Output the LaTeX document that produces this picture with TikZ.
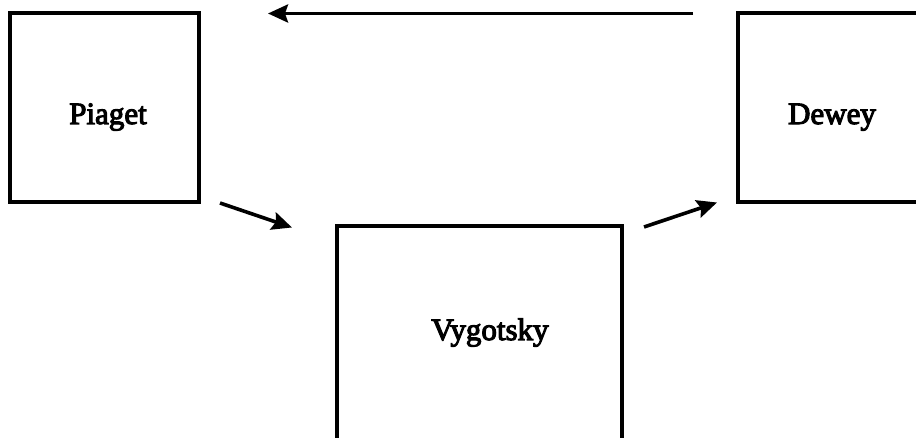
\documentclass[tikz,border=0pt]{standalone}
\usepackage{fontspec}
\setmainfont{Liberation Serif}[FakeBold=3.5]
\usetikzlibrary{arrows.meta}
\begin{document}
\begin{tikzpicture}[x=1pt,y=-1pt,
  box/.style={draw=black,line width=3.4pt},
  name label/.style={font=\fontsize{31}{36}\selectfont,anchor=base,inner sep=0pt},
  flow/.style={line width=3.6pt,-{Stealth[length=20pt,width=18pt,inset=3pt]}}]
  \useasboundingbox (0,0) rectangle (916,438);
  \clip (0,0) rectangle (916,438);
  \fill[white] (0,0) rectangle (916,438);
  % the three boxes (Dewey and Vygotsky run past the page edge)
  \draw[box] (10,13) rectangle (199,202) node[pos=0.5,name=piaget,inner sep=0pt]{};
  \draw[box] (738,13) rectangle (928,202) node[pos=0.5,name=dewey,inner sep=0pt]{};
  \draw[box] (337,226) rectangle (622,460) node[pos=0.5,name=vygotsky,inner sep=0pt]{};
  % names
  \node[name label] (piagettext) at (108,124) {Piaget};
  \node[name label] (deweytext) at (832,124) {Dewey};
  \node[name label] (vygotskytext) at (490,340) {Vygotsky};
  % arrow ends
  \coordinate (topstart) at (693,13.5);
  \coordinate (topend) at (268,13.5);
  \coordinate (pvstart) at (220,203);
  \coordinate (pvend) at (292,227.5);
  \coordinate (vdstart) at (644,227);
  \coordinate (vdend) at (717,202.5);
  \draw[flow] (topstart) -- (topend);
  \draw[flow] (pvstart) -- (pvend);
  \draw[flow] (vdstart) -- (vdend);
\end{tikzpicture}
\end{document}
